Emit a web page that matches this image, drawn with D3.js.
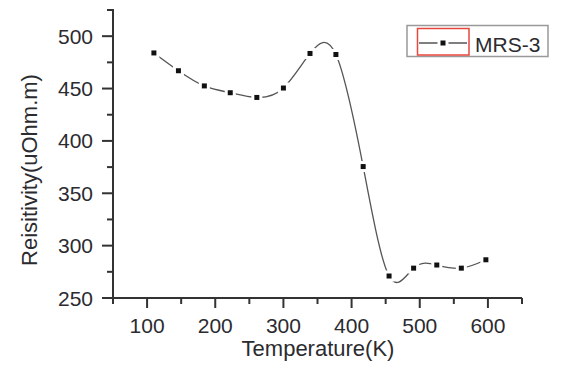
<!DOCTYPE html>
<html>
<head>
<meta charset="utf-8">
<script src="https://cdn.jsdelivr.net/npm/d3@7/dist/d3.min.js"></script>
<style>
  html, body { margin: 0; padding: 0; background: #fff; }
  svg { display: block; }
  text { font-family: "Liberation Sans", Arial, sans-serif; fill: #2b2b30; }
</style>
</head>
<body>
<svg id="chart" width="580" height="368"></svg>
<script>
// ---- data ----
const temperature = [110, 146, 184, 222, 261, 300, 339, 377, 417, 455, 491, 525, 561, 597];
const resistivity = [484, 467, 452.5, 446, 441.5, 450.5, 483.5, 482.5, 375.5, 271, 278.5, 281.5, 278.5, 286.5];
const xTickLabels = [100, 200, 300, 400, 500, 600];
const yTickLabels = [250, 300, 350, 400, 450, 500];
const seriesName = "MRS-3";
const xTitle = "Temperature(K)";
const yTitle = "Reisitivity(uOhm.m)";

const svg = d3.select("#chart");
const x = d3.scaleLinear().domain([50, 650]).range([113, 522]);
const y = d3.scaleLinear().domain([250, 525]).range([298, 10]);
const axisColor = "#333";

const data = temperature.map((t, i) => ({ t, r: resistivity[i] }));

// curve
const line = d3.line().x(d => x(d.t)).y(d => y(d.r)).curve(d3.curveNatural);
svg.append("path").datum(data)
  .attr("d", line)
  .attr("fill", "none")
  .attr("stroke", "#555")
  .attr("stroke-width", 1.3);

// marker halos (gaps in line) and markers
svg.selectAll("rect.halo").data(data).enter().append("rect")
  .attr("class", "halo")
  .attr("x", d => x(d.t) - 5.5).attr("y", d => y(d.r) - 5.5)
  .attr("width", 11).attr("height", 11)
  .attr("fill", "#fff");
svg.selectAll("rect.pt").data(data).enter().append("rect")
  .attr("class", "pt")
  .attr("x", d => x(d.t) - 2.5).attr("y", d => y(d.r) - 2.5)
  .attr("width", 5).attr("height", 5)
  .attr("fill", "#111");

// x axis
const xMinor = d3.range(50, 651, 100);
const gx = svg.append("g").attr("transform", "translate(0,298)");
gx.append("line").attr("x1", 113).attr("x2", 522).attr("stroke", axisColor).attr("stroke-width", 2);
gx.selectAll("line.maj").data(xTickLabels).enter().append("line")
  .attr("x1", d => x(d)).attr("x2", d => x(d)).attr("y1", 0).attr("y2", 10)
  .attr("stroke", axisColor).attr("stroke-width", 2);
gx.selectAll("line.min").data(xMinor).enter().append("line")
  .attr("x1", d => x(d)).attr("x2", d => x(d)).attr("y1", 0).attr("y2", 6)
  .attr("stroke", axisColor).attr("stroke-width", 2);
gx.selectAll("text").data(xTickLabels).enter().append("text")
  .attr("x", d => x(d)).attr("y", 35)
  .attr("text-anchor", "middle").attr("font-size", 21)
  .text(d => d);

// y axis
const yMinor = d3.range(275, 526, 50);
const gy = svg.append("g");
gy.append("line").attr("x1", 113).attr("x2", 113).attr("y1", 9).attr("y2", 299)
  .attr("stroke", axisColor).attr("stroke-width", 2);
gy.selectAll("line.maj").data(yTickLabels).enter().append("line")
  .attr("x1", 102).attr("x2", 113).attr("y1", d => y(d)).attr("y2", d => y(d))
  .attr("stroke", axisColor).attr("stroke-width", 2);
gy.selectAll("line.min").data(yMinor).enter().append("line")
  .attr("x1", 107).attr("x2", 113).attr("y1", d => y(d)).attr("y2", d => y(d))
  .attr("stroke", axisColor).attr("stroke-width", 2);
gy.selectAll("text").data(yTickLabels).enter().append("text")
  .attr("x", 93).attr("y", d => y(d) + 7.5)
  .attr("text-anchor", "end").attr("font-size", 21)
  .text(d => d);

// titles
svg.append("text").attr("x", 318).attr("y", 356)
  .attr("text-anchor", "middle").attr("font-size", 22).text(xTitle);
svg.append("text").attr("transform", "translate(37,170) rotate(-90)")
  .attr("text-anchor", "middle").attr("font-size", 22).text(yTitle);

// legend
const lg = svg.append("g");
lg.append("rect").attr("x", 407).attr("y", 25.5).attr("width", 141).attr("height", 31)
  .attr("fill", "#fff").attr("stroke", "#999").attr("stroke-width", 1.5);
lg.append("rect").attr("x", 417.5).attr("y", 28.5).attr("width", 51.5).attr("height", 26.5)
  .attr("fill", "none").attr("stroke", "#e8473c").attr("stroke-width", 1.5);
lg.append("line").attr("x1", 419).attr("x2", 467).attr("y1", 43).attr("y2", 43)
  .attr("stroke", "#555").attr("stroke-width", 1.3);
lg.append("rect").attr("x", 443 - 5.5).attr("y", 43 - 5.5).attr("width", 11).attr("height", 11).attr("fill", "#fff");
lg.append("rect").attr("x", 443 - 2.5).attr("y", 43 - 2.5).attr("width", 5).attr("height", 5).attr("fill", "#111");
lg.append("text").attr("x", 475).attr("y", 51.5).attr("font-size", 21).text(seriesName);
</script>
</body>
</html>
